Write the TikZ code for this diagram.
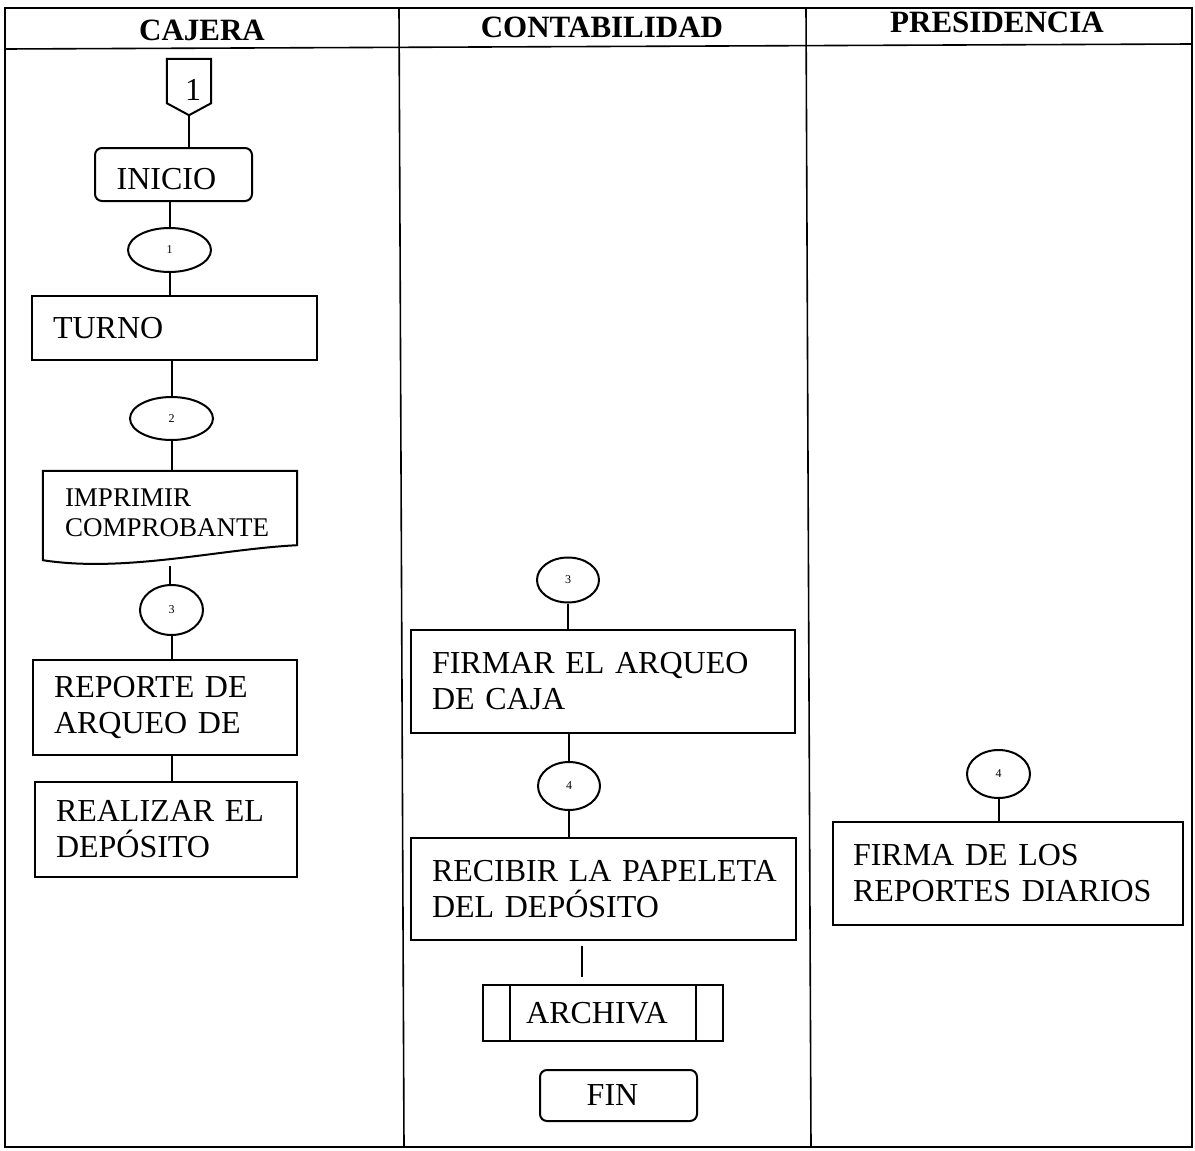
\documentclass[tikz,border=0pt]{standalone}
\usepackage{fontspec}
\setmainfont{Liberation Serif}
\usetikzlibrary{shapes.geometric}
\newcommand\hdfont{\fontsize{31}{36}\selectfont\bfseries}
\newcommand\bxfont{\fontsize{32}{36}\selectfont}
\newcommand\dcfont{\fontsize{27}{30}\selectfont}
\newcommand\nmfont{\fontsize{12}{12}\selectfont}
\tikzset{
  frame/.style={line width=1.6pt},
  proc/.style={draw, line width=2pt, rectangle, inner xsep=21pt, inner ysep=0pt, align=left, font=\bxfont},
  term/.style={draw, line width=2pt, rectangle, rounded corners=7pt, inner sep=0pt, font=\bxfont},
  conn/.style={draw, line width=2pt, ellipse, inner sep=0pt, font=\nmfont},
  link/.style={line width=2pt},
  head/.style={font=\hdfont, inner sep=0pt}
}
\begin{document}
\begin{tikzpicture}[x=1pt, y=-1pt]
\useasboundingbox (0,0) rectangle (1195,1151);
% lanes
\draw[frame] (5,8) rectangle (1192,1147);
\draw[frame] (5,49) -- (1192,44);
\draw[frame] (399,8) -- (404,1147);
\draw[frame] (806,8) -- (811,1147);
\node[head] (h1) at (202,30) {CAJERA};
\node[head] (h2) at (602,27) {CONTABILIDAD};
\node[head] (h3) at (997,22) {PRESIDENCIA};

% ---- CAJERA ----
\node[minimum width=44pt, minimum height=56pt, inner sep=0pt, font=\bxfont, text height=27pt, text depth=0pt] (off) at (189,87) {\hspace*{8pt}1};
\draw[link, line join=miter] (off.north west) -- (off.north east) -- ([yshift=12pt]off.south east) -- (off.south) -- ([yshift=12pt]off.south west) -- cycle;
\node[term, minimum width=157pt, minimum height=53pt, text height=29pt, text depth=0pt] (inicio) at (173.5,174.5) {\hspace*{-14pt}INICIO};
\node[conn, minimum width=83pt, minimum height=44pt] (e1) at (169.5,250) {1};
\node[proc, text width=243pt, minimum height=64pt] (turno) at (174.5,328) {TURNO};
\node[conn, minimum width=83pt, minimum height=43pt] (e2) at (171.5,418.5) {2};
\node[rectangle, inner xsep=22pt, inner ysep=0pt, text width=210pt, minimum height=84pt, align=left, font=\dcfont] (doc) at (170,513) {IMPRIMIR\\COMPROBANTE};
\draw[link] (doc.north west) -- (doc.north east) -- ([yshift=10pt]doc.south east) .. controls (220,549) and (125,573) .. ([yshift=-5pt]doc.south west) -- cycle;
\coordinate (docb) at (170,566);
\node[conn, minimum width=63pt, minimum height=50pt] (e3) at (171.5,610) {3};
\node[proc, text width=222pt, minimum height=95pt] (rep) at (165,707.5) {\mbox{REPORTE DE}\\\mbox{ARQUEO DE}};
\node[proc, text width=220pt, minimum height=95pt] (real) at (166,829.5) {\mbox{REALIZAR EL}\\\mbox{DEPÓSITO}};

\draw[link] (off.south) -- (off.south |- inicio.north);
\draw[link] (e1.north |- inicio.south) -- (e1.north);
\draw[link] (e1.south) -- (e1.south |- turno.north);
\draw[link] (e2.north |- turno.south) -- (e2.north);
\draw[link] (e2.south) -- (e2.south |- doc.north);
\draw[link] (docb) -- (docb |- e3.north);
\draw[link] (e3.south) -- (e3.south |- rep.north);
\draw[link] (rep.south -| e3.south) -- (real.north -| e3.south);

% ---- CONTABILIDAD ----
\node[conn, minimum width=62pt, minimum height=45pt] (e3c) at (568,580) {3};
\node[proc, text width=342pt, minimum height=103pt] (firmar) at (603,681.5) {\mbox{FIRMAR EL ARQUEO}\\\mbox{DE CAJA}};
\node[conn, minimum width=62pt, minimum height=48pt] (e4c) at (569,786) {4};
\node[proc, text width=343pt, minimum height=102pt] (recibir) at (603.5,889) {\mbox{RECIBIR LA PAPELETA}\\\mbox{DEL DEPÓSITO}};
\node[draw, line width=2pt, rectangle, minimum width=240pt, minimum height=56pt, inner sep=0pt, font=\bxfont] (archiva) at (603,1013) {\hspace{-12pt}ARCHIVA};
\draw[link] ([xshift=28pt]archiva.north west) -- ([xshift=28pt]archiva.south west);
\draw[link] ([xshift=-28pt]archiva.north east) -- ([xshift=-28pt]archiva.south east);
\node[term, minimum width=157pt, minimum height=51pt] (fin) at (618.5,1095.5) {\hspace{-12pt}FIN};
\coordinate (ax) at (582,0);

\draw[link] (e3c.south) -- (e3c.south |- firmar.north);
\draw[link] (e4c.north |- firmar.south) -- (e4c.north);
\draw[link] (e4c.south) -- (e4c.south |- recibir.north);
\draw[link, shorten <=5pt, shorten >=7pt] (recibir.south -| ax) -- (archiva.north -| ax);

% ---- PRESIDENCIA ----
\node[conn, minimum width=63pt, minimum height=48pt] (e4p) at (998.5,774) {4};
\node[proc, inner xsep=20pt, text width=310pt, minimum height=103pt] (firma) at (1008,873.5) {\mbox{FIRMA DE LOS}\\\mbox{REPORTES DIARIOS}};
\draw[link] (e4p.south) -- (e4p.south |- firma.north);
\end{tikzpicture}
\end{document}
